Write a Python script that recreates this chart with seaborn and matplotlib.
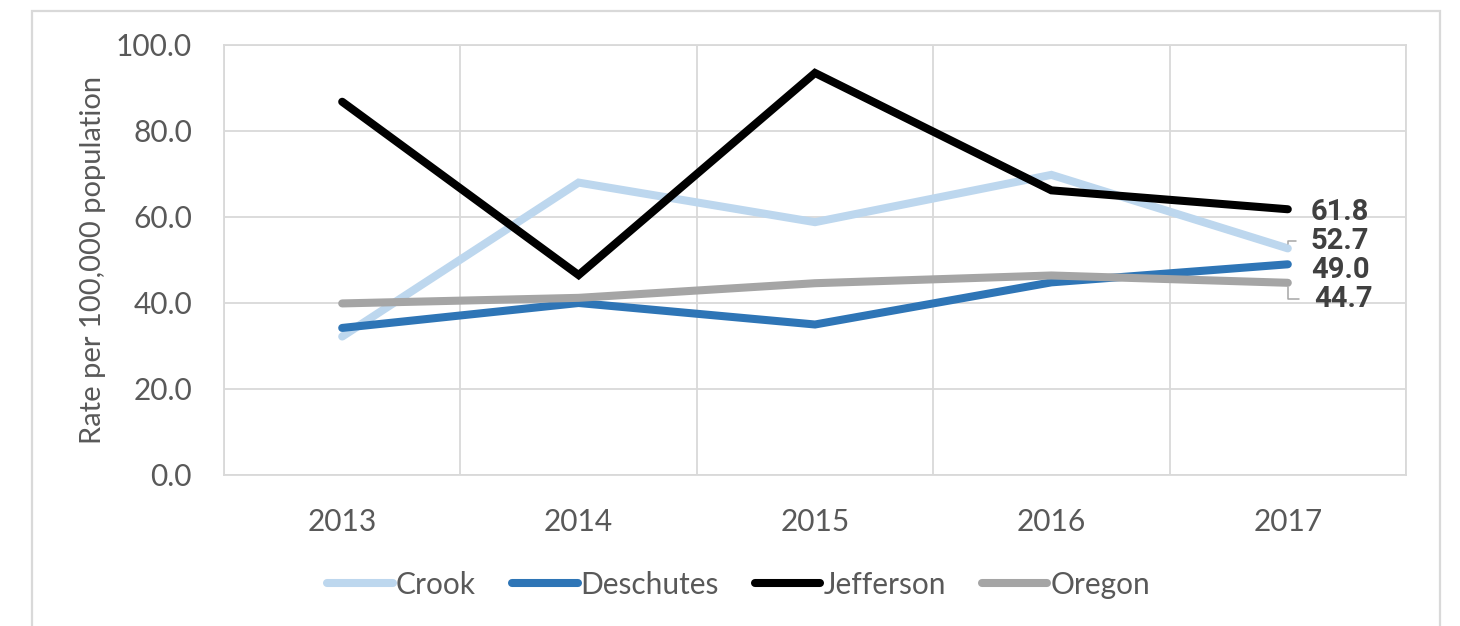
import matplotlib
matplotlib.use("Agg")
import matplotlib.pyplot as plt
from matplotlib.patches import Rectangle
import pandas as pd
import seaborn as sns

# Rate per 100,000 population by county, 2013-2017
years = ["2013", "2014", "2015", "2016", "2017"]
crook = [32.2, 68.0, 58.8, 69.8, 52.7]
deschutes = [34.2, 40.0, 35.0, 44.8, 49.0]
jefferson = [86.8, 46.5, 93.5, 66.2, 61.8]
oregon = [39.9, 41.2, 44.6, 46.4, 44.7]

series_names = ["Crook", "Deschutes", "Jefferson", "Oregon"]
series_values = [crook, deschutes, jefferson, oregon]
colors = ["#BDD7EE", "#2E75B6", "#000000", "#A5A5A5"]

df = pd.DataFrame(
    [(name, yr, v) for name, vals in zip(series_names, series_values)
     for yr, v in zip(years, vals)],
    columns=["Area", "Year", "Rate"],
)

sns.set_theme(style="white")
plt.rcParams["font.family"] = ["Lato", "DejaVu Sans"]

text_color = "#595959"
grid_color = "#D9D9D9"
lw = 5.8
fs = 21.5

fig = plt.figure(figsize=(14.6, 6.26), dpi=100)
ax = fig.add_axes([224 / 1460, 1 - 475 / 626, (1406 - 224) / 1460, (475 - 45) / 626])

# outer chart frame
fig.patches.append(Rectangle((32 / 1460, -0.1), (1440 - 32) / 1460, 1.1 - 11 / 626,
                             transform=fig.transFigure, fill=False,
                             edgecolor=grid_color, linewidth=1.6, zorder=0))

sns.lineplot(data=df, x="Year", y="Rate", hue="Area", hue_order=series_names,
             palette=dict(zip(series_names, colors)), sort=False,
             linewidth=lw, ax=ax, legend=True)
for line in ax.get_lines():
    line.set_solid_capstyle("round")
    line.set_solid_joinstyle("miter")

handles, labels = ax.get_legend_handles_labels()
ax.get_legend().remove()
for h in handles:
    h.set_linewidth(lw)
    h.set_solid_capstyle("round")

ax.set_xlim(-0.5, len(years) - 0.5)
ax.set_ylim(0, 100)
ax.set_yticks([0, 20, 40, 60, 80, 100])
ax.set_yticklabels([f"{v:.1f}" for v in [0, 20, 40, 60, 80, 100]])
ax.set_xticks(range(len(years)))
ax.set_xticklabels(years)
ax.set_xticks([i - 0.5 for i in range(len(years) + 1)], minor=True)

ax.tick_params(axis="x", which="major", length=0, pad=24, labelsize=fs, labelcolor=text_color)
ax.tick_params(axis="x", which="minor", length=7, width=1.2, color=grid_color, direction="out")
ax.tick_params(axis="y", which="major", length=0, pad=23, labelsize=fs, labelcolor=text_color)

ax.grid(False)
ax.yaxis.grid(True, color=grid_color, linewidth=1.3)
ax.xaxis.grid(True, which="minor", color=grid_color, linewidth=1.3)
for s in ax.spines.values():
    s.set_color(grid_color)
    s.set_linewidth(1.3)
ax.set_axisbelow(True)

ax.set_xlabel("")
ax.set_ylabel("Rate per 100,000 population", fontsize=21, color=text_color)
ax.yaxis.set_label_coords(-0.1, 0.5)

# value labels at the last year
last = len(years) - 1
label_offsets = {"Jefferson": (23, -3, False), "Crook": (23, 7, True),
                 "Deschutes": (23, -6, False), "Oregon": (26, -16, True)}
for name, vals in zip(series_names, series_values):
    dx, dy, leader = label_offsets[name]
    kw = {}
    if leader:
        kw["arrowprops"] = dict(arrowstyle="-", color="#A6A6A6", lw=1.1,
                                connectionstyle="angle,angleA=0,angleB=90,rad=0",
                                shrinkA=8, shrinkB=3)
    ax.annotate(f"{vals[last]:.1f}", xy=(last, vals[last]), xytext=(dx, dy),
                textcoords="offset pixels", ha="left", va="center",
                fontsize=21, fontweight="bold", family=["Roboto", "DejaVu Sans"],
                color="#404040", annotation_clip=False, **kw)

fig.legend(handles, labels, loc="center", bbox_to_anchor=(0.506, 0.066), ncol=4,
           frameon=False, fontsize=fs, labelcolor=text_color,
           handlelength=2.2, handletextpad=0.1, columnspacing=1.2)

fig.savefig("out.png", dpi=100, facecolor="white")
